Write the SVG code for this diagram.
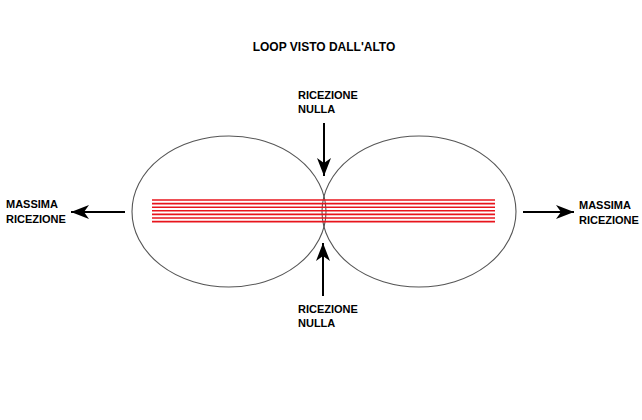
<svg xmlns="http://www.w3.org/2000/svg" width="642" height="420" viewBox="0 0 642 420">
<style>
  text { font-family: "Liberation Sans", Arial, sans-serif; font-weight: bold; fill: #000; }
  .t { font-size: 12px; }
  .l { font-size: 11px; }
  .lobe { fill: none; stroke: #555; stroke-width: 1.1; }
  .wire { stroke: #e8141c; stroke-width: 1.6; }
  .arr { stroke: #000; stroke-width: 2; fill: none; marker-end: url(#ah); }
</style>
<defs>
  <marker id="ah" markerUnits="userSpaceOnUse" markerWidth="20" markerHeight="14" refX="18" refY="7" orient="auto">
    <path d="M0,0 L18,7 L0,14 L5,7 Z" fill="#000"/>
  </marker>
</defs>
<rect width="642" height="420" fill="#fff"/>
<text class="t" x="324" y="51" text-anchor="middle">LOOP VISTO DALL'ALTO</text>
<g id="lobe-left"><ellipse class="lobe" cx="229" cy="211.5" rx="97" ry="75.5"/></g>
<g id="lobe-right"><ellipse class="lobe" cx="419" cy="211.5" rx="97" ry="75.5"/></g>
<g id="loop">
  <line class="wire" x1="152" y1="200" x2="495" y2="200"/>
  <line class="wire" x1="152" y1="203.6" x2="495" y2="203.6"/>
  <line class="wire" x1="152" y1="207.2" x2="495" y2="207.2"/>
  <line class="wire" x1="152" y1="210.8" x2="495" y2="210.8"/>
  <line class="wire" x1="152" y1="214.4" x2="495" y2="214.4"/>
  <line class="wire" x1="152" y1="218" x2="495" y2="218"/>
  <line class="wire" x1="152" y1="221.6" x2="495" y2="221.6"/>
</g>
<g id="label-top"><text class="l" x="298" y="99">RICEZIONE</text><text class="l" x="298" y="113">NULLA</text></g>
<g id="label-bottom"><text class="l" x="298" y="313">RICEZIONE</text><text class="l" x="298" y="327">NULLA</text></g>
<g id="label-left"><text class="l" x="6" y="208">MASSIMA</text><text class="l" x="6" y="223">RICEZIONE</text></g>
<g id="label-right"><text class="l" x="579" y="209">MASSIMA</text><text class="l" x="579" y="224">RICEZIONE</text></g>
<g id="connectors">
  <line class="arr" x1="324" y1="123" x2="324" y2="176"/>
  <line class="arr" x1="323" y1="296" x2="323" y2="243"/>
  <line class="arr" x1="125" y1="212" x2="71" y2="212"/>
  <line class="arr" x1="523" y1="212" x2="574" y2="212"/>
</g>
</svg>
